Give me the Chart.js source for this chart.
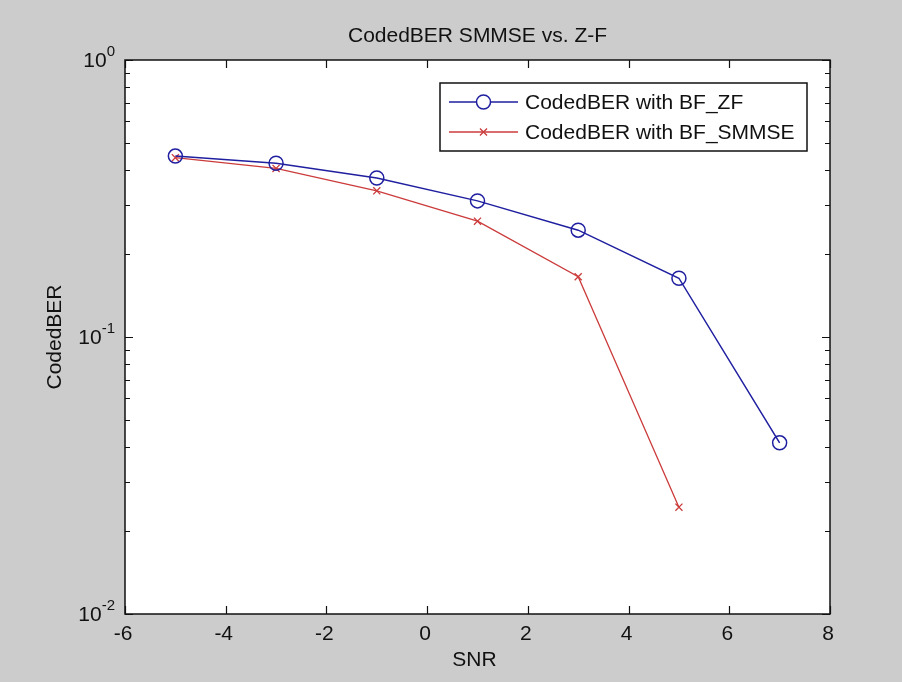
<!DOCTYPE html>
<html>
<head>
<meta charset="utf-8">
<title>CodedBER SMMSE vs. Z-F</title>
<script src="https://cdn.jsdelivr.net/npm/chart.js@4.4.0/dist/chart.umd.min.js"></script>
<style>
  html, body { margin: 0; padding: 0; background: #cccccc; }
  #wrap { position: relative; width: 902px; height: 682px; }
</style>
</head>
<body>
<div id="wrap"><canvas id="ber"></canvas></div>
<script>
// SNR points and coded BER per beamformer
const snrZF = [-5, -3, -1, 1, 3, 5, 7];
const berZF = [0.450, 0.424, 0.375, 0.310, 0.243, 0.163, 0.0415];
const snrSMMSE = [-5, -3, -1, 1, 3, 5];
const berSMMSE = [0.444, 0.406, 0.337, 0.262, 0.165, 0.0243];

const seriesNames = ['CodedBER with BF_ZF', 'CodedBER with BF_SMMSE'];
const xTicks = [-6, -4, -2, 0, 2, 4, 6, 8];
const yDecades = [-2, -1, 0];

const FONT = '"Liberation Sans", Arial, sans-serif';
const BLUE = '#1f1fa0';
const RED = '#cc3b3b';

const toPoints = (xs, ys) => xs.map((x, i) => ({ x: x, y: ys[i] }));

// matlab style frame: white axes, inward ticks on all four sides, log tick labels
const matlabAxes = {
  id: 'matlabAxes',
  beforeDraw(chart) {
    const ctx = chart.ctx;
    const a = chart.chartArea;
    ctx.save();
    ctx.fillStyle = '#cccccc';
    ctx.fillRect(0, 0, chart.width, chart.height);
    ctx.fillStyle = '#ffffff';
    ctx.fillRect(a.left, a.top, a.right - a.left, a.bottom - a.top);
    ctx.restore();
  },
  afterDatasetsDraw(chart) {
    const ctx = chart.ctx;
    const a = chart.chartArea;
    const xs = chart.scales.x;
    const ys = chart.scales.y;
    ctx.save();
    ctx.strokeStyle = '#111111';
    ctx.lineWidth = 1.5;
    ctx.strokeRect(a.left, a.top, a.right - a.left, a.bottom - a.top);

    // x ticks
    ctx.beginPath();
    xTicks.forEach(t => {
      const px = Math.round(xs.getPixelForValue(t)) + 0.5;
      ctx.moveTo(px, a.bottom); ctx.lineTo(px, a.bottom - 8);
      ctx.moveTo(px, a.top); ctx.lineTo(px, a.top + 8);
    });
    // y ticks, majors plus 2..9 minors
    yDecades.forEach(d => {
      const py = Math.round(ys.getPixelForValue(Math.pow(10, d))) + 0.5;
      ctx.moveTo(a.left, py); ctx.lineTo(a.left + 8, py);
      ctx.moveTo(a.right, py); ctx.lineTo(a.right - 8, py);
      if (d < 0) {
        for (let m = 2; m <= 9; m++) {
          const my = Math.round(ys.getPixelForValue(m * Math.pow(10, d))) + 0.5;
          ctx.moveTo(a.left, my); ctx.lineTo(a.left + 5, my);
          ctx.moveTo(a.right, my); ctx.lineTo(a.right - 5, my);
        }
      }
    });
    ctx.lineWidth = 1.2;
    ctx.stroke();

    ctx.fillStyle = '#111111';
    // x tick labels
    ctx.font = '21px ' + FONT;
    ctx.textAlign = 'center';
    ctx.textBaseline = 'middle';
    xTicks.forEach(t => {
      ctx.fillText(String(t), xs.getPixelForValue(t) - 2, a.bottom + 20);
    });

    // y tick labels as 10 with superscript exponent
    yDecades.forEach(d => {
      const py = ys.getPixelForValue(Math.pow(10, d));
      const exp = String(d);
      ctx.font = '15px ' + FONT;
      const ew = ctx.measureText(exp).width;
      const right = a.left - 10;
      ctx.textAlign = 'left';
      ctx.textBaseline = 'alphabetic';
      ctx.fillText(exp, right - ew, py - 4);
      ctx.font = '21px ' + FONT;
      ctx.textAlign = 'right';
      ctx.textBaseline = 'middle';
      ctx.fillText('10', right - ew, py + 1);
    });

    // title and axis labels
    const cx = (a.left + a.right) / 2;
    ctx.font = '21px ' + FONT;
    ctx.textAlign = 'center';
    ctx.textBaseline = 'middle';
    ctx.fillText('CodedBER SMMSE vs. Z-F', cx, a.top - 24);
    ctx.fillText('SNR', cx - 3, a.bottom + 46);
    ctx.save();
    ctx.translate(55, (a.top + a.bottom) / 2);
    ctx.rotate(-Math.PI / 2);
    ctx.fillText('CodedBER', 0, 0);
    ctx.restore();

    // legend box inside the axes, top right
    const box = { left: 440, top: 83, right: 807, bottom: 151 };
    ctx.fillStyle = '#ffffff';
    ctx.fillRect(box.left, box.top, box.right - box.left, box.bottom - box.top);
    ctx.lineWidth = 1.5;
    ctx.strokeStyle = '#111111';
    ctx.strokeRect(box.left, box.top, box.right - box.left, box.bottom - box.top);
    const rows = [102, 132];
    chart.data.datasets.forEach((ds, i) => {
      const y = rows[i];
      ctx.strokeStyle = ds.borderColor;
      ctx.lineWidth = ds.borderWidth;
      ctx.beginPath();
      ctx.moveTo(449, y); ctx.lineTo(518, y);
      ctx.stroke();
      Chart.helpers.drawPoint(ctx, {
        pointStyle: ds.pointStyle,
        radius: ds.pointRadius,
        rotation: 0,
        borderWidth: ds.pointBorderWidth
      }, 483.5, y);
      ctx.fillStyle = '#111111';
      ctx.font = '21px ' + FONT;
      ctx.textAlign = 'left';
      ctx.textBaseline = 'middle';
      ctx.fillText(ds.label, 525, y + 1);
    });
    ctx.restore();
  }
};

new Chart(document.getElementById('ber'), {
  type: 'line',
  data: {
    datasets: [
      {
        label: seriesNames[0],
        data: toPoints(snrZF, berZF),
        borderColor: BLUE,
        borderWidth: 1.5,
        pointStyle: 'circle',
        pointRadius: 7,
        pointBorderWidth: 1.5,
        pointBorderColor: BLUE,
        pointBackgroundColor: 'rgba(0,0,0,0)',
        tension: 0
      },
      {
        label: seriesNames[1],
        data: toPoints(snrSMMSE, berSMMSE),
        borderColor: RED,
        borderWidth: 1.3,
        pointStyle: 'crossRot',
        pointRadius: 5,
        pointBorderWidth: 1.3,
        pointBorderColor: RED,
        pointBackgroundColor: RED,
        tension: 0
      }
    ]
  },
  options: {
    responsive: true,
    maintainAspectRatio: false,
    animation: false,
    layout: { padding: { left: 125, top: 60, right: 72, bottom: 68 } },
    scales: {
      x: { type: 'linear', min: -6, max: 8, display: false },
      y: { type: 'logarithmic', min: 0.01, max: 1, display: false }
    },
    plugins: {
      legend: { display: false },
      tooltip: { enabled: false }
    }
  },
  plugins: [matlabAxes]
});
</script>
</body>
</html>
